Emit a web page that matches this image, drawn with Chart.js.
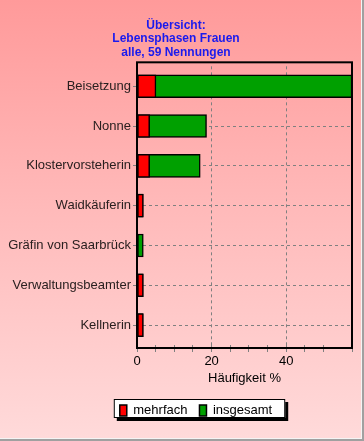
<!DOCTYPE html>
<html>
<head>
<meta charset="utf-8">
<script src="https://cdn.jsdelivr.net/npm/chart.js@4/dist/chart.umd.min.js"></script>
<style>
  html, body { margin: 0; padding: 0; background: #a0a0a0; }
  #frame {
    width: 361px; height: 438px;
    border-right: 1px solid #f4f4f4; border-bottom: 1px solid #f4f4f4;
    background: linear-gradient(to bottom, #ff9a9a 0%, #ffb8b8 45%, #ffdada 100%);
  }
  canvas { display: block; }
</style>
</head>
<body>
<div id="frame"><canvas id="chart" width="361" height="438"></canvas></div>
<script>
/* Kategorien und Werte (Prozent von 59 Nennungen) */
const categories = ["Beisetzung", "Nonne", "Klostervorsteherin", "Waidkäuferin",
    "Gräfin von Saarbrück", "Verwaltungsbeamter", "Kellnerin"];
const mehrfach = [5.08, 3.39, 3.39, 1.69, null, 1.69, 1.69];
const insgesamt = [57.63, 18.64, 16.95, 1.69, 1.69, 1.69, 1.69];
const titleLines = ["Übersicht:", "Lebensphasen Frauen", "alle, 59 Nennungen"];
const xMax = 57.63;

const FONT = "Liberation Sans, Arial, sans-serif";

/* Rahmen um Plotfläche und weiße Legendenbox mit Schatten */
const framePlugin = {
    id: "frame",
    afterLayout(chart) {
        // Legende etwas nach rechts schieben (Hitboxen berechnet das Legend-Plugin danach neu)
        chart.legend.left += 20;
        chart.legend.right += 20;
    },
    beforeDraw(chart) {
        const ctx = chart.ctx;
        const hb = chart.legend.legendHitBoxes;
        if (!hb || !hb.length) return;
        const l = Math.min(...hb.map(h => h.left)) - 6;
        const r = Math.max(...hb.map(h => h.left + h.width)) + 13;
        const cy = hb[0].top + hb[0].height / 2;
        const t = Math.round(cy - 12);
        const b = Math.round(cy + 7);
        ctx.save();
        ctx.fillStyle = "#000";
        ctx.fillRect(l + 3, t + 3, r - l, b - t);
        ctx.fillStyle = "#fff";
        ctx.fillRect(l, t, r - l, b - t);
        ctx.strokeStyle = "#000";
        ctx.lineWidth = 1;
        ctx.strokeRect(l + 0.5, t + 0.5, r - l - 1, b - t - 1);
        ctx.restore();
    },
    afterDatasetsDraw(chart) {
        // Rahmen etwas größer als die Kategorienfläche, wie im Original
        const a = chart.chartArea;
        const ctx = chart.ctx;
        ctx.save();
        ctx.strokeStyle = "#000";
        ctx.lineWidth = 2;
        ctx.strokeRect(a.left, a.top - 4, a.right - a.left, a.bottom - a.top + 7);
        ctx.restore();
    }
};

const ctx = document.getElementById("chart").getContext("2d");
const chart = new Chart(ctx, {
    type: "bar",
    data: {
        labels: categories,
        datasets: [
            {
                label: "mehrfach",
                data: mehrfach,
                backgroundColor: "#ff0000",
                borderColor: "#000",
                borderWidth: 1.5,
                borderSkipped: false,
            },
            {
                label: "insgesamt",
                data: insgesamt,
                backgroundColor: "#00a000",
                borderColor: "#000",
                borderWidth: 1.5,
                borderSkipped: false,
            },
        ],
    },
    options: {
        indexAxis: "y",
        responsive: false,
        animation: false,
        layout: { padding: { left: 0, right: 9, top: 0, bottom: 11 } },
        datasets: { bar: { grouped: false, barThickness: 23 } },
        plugins: {
            title: {
                display: true,
                text: titleLines,
                color: "#1a1aee",
                font: { family: FONT, size: 12, weight: "bold", lineHeight: 1.12 },
                padding: { top: 19, bottom: 7 },
            },
            legend: {
                position: "bottom",
                labels: {
                    boxWidth: 7,
                    boxHeight: 11,
                    color: "#000",
                    padding: 12,
                    font: { family: FONT, size: 13 },
                },
            },
            tooltip: { enabled: false },
        },
        scales: {
            x: {
                min: 0,
                max: xMax,
                afterFit(s) { s.height = 47; },
                ticks: {
                    stepSize: 5,
                    color: "#000",
                    padding: 2,
                    maxRotation: 0,
                    autoSkip: false,
                    font: { family: FONT, size: 13 },
                    callback: (v) => (v % 20 === 0 ? v : ""),
                },
                grid: {
                    color: (c) => (c.tick && c.tick.value % 20 === 0 && c.tick.value > 0 && c.tick.value < xMax ? "#808080" : "rgba(0,0,0,0)"),
                    tickColor: "#808080",
                    tickLength: 7,
                },
                border: { display: false, dash: [3, 3] },
                title: {
                    display: true,
                    text: "Häufigkeit %",
                    color: "#000",
                    padding: { top: 0, bottom: 6 },
                    font: { family: FONT, size: 13 },
                },
            },
            y: {
                afterFit(s) { s.width = 137; },
                ticks: {
                    color: "#2a2020",
                    padding: 2,
                    font: { family: FONT, size: 13 },
                },
                grid: {
                    offset: false,
                    color: "#808080",
                    tickColor: "#808080",
                    tickLength: 4,
                },
                border: { display: false, dash: [3, 3] },
            },
        },
    },
    plugins: [framePlugin],
});
</script>
</body>
</html>
